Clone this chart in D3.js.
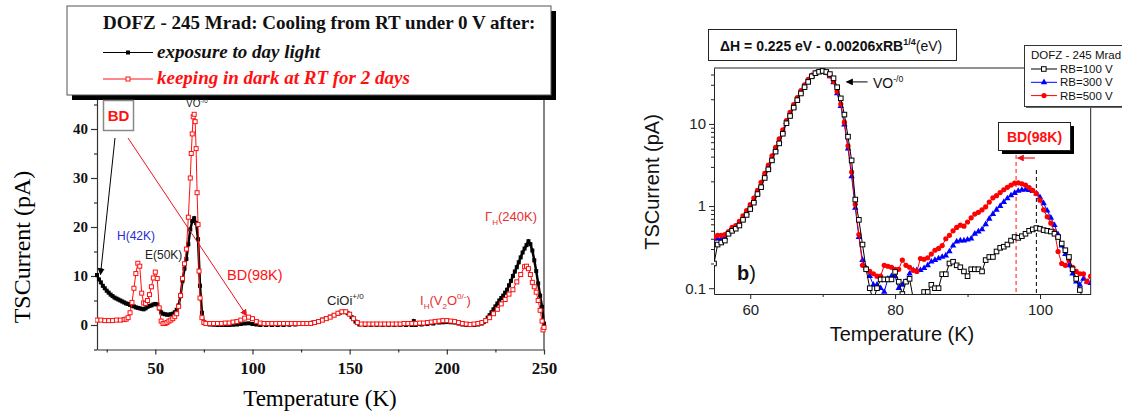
<!DOCTYPE html>
<html>
<head>
<meta charset="utf-8">
<script src="https://cdn.jsdelivr.net/npm/d3@7"></script>
<style>
  body { margin: 0; background: #fff; }
  svg { display: block; }
</style>
</head>
<body>
<svg id="chart" width="1122" height="413"></svg>
<script>
// ---------------- panel a (linear TSC spectra) ----------------
var aTicksX = [50, 100, 150, 200, 250];
var aMinorX = [25, 75, 125, 175, 225];
var aTicksY = [0, 10, 20, 30, 40];
var aMinorY = [-5, 5, 15, 25, 35, 45];

// exposure to day light  [T (K), I (pA)]
var dayLight = [[20,10.2],[21,9.3],[22,8.7],[23,8.0],[24,7.5],[25,7.0],[26,6.6],[27,6.2],[28,5.9],[29,5.6],
  [30,5.4],[31,5.2],[32,5.0],[33,4.8],[34,4.6],[35,4.4],[36,4.3],[37,4.1],[38,3.9],[39,3.8],[40,3.6],[41,3.5],
  [42,3.4],[43,3.3],[44,3.2],[45,3.4],[46,3.7],[47,3.9],[48,4.0],[49,4.2],[50,4.3],[51,4.2],[52,3.4],[53,2.6],
  [54,2.3],[55,2.2],[56,2.1],[57,2.1],[58,2.2],[59,2.3],[60,2.6],[61,3.1],[62,4.0],[63,6.0],[64,9.0],[65,11.5],
  [66,13.5],[67,16.5],[68,19.5],[69,21.2],[70,21.8],[71,20.8],[72,17.5],[73,8.0],[74,2.5],[75,0.6],[76,0.2],
  [78,0.1],[80,0.05],[82,0.0],[84,0.0],[86,0.0],[88,0.0],[90,0.05],[92,0.1],[94,0.2],[96,0.3],[98,0.35],[100,0.2],
  [102,0.1],[104,0.0],[107,0.0],[110,0.0],[113,0.0],[116,0.0],[119,0.05],[122,0.1],[125,0.2],[128,0.3],[131,0.5],
  [134,0.8],[136,1.1],[138,1.4],[140,1.7],[142,2.0],[144,2.3],[145,2.5],[147,2.7],[149,2.4],[151,1.6],[153,0.7],
  [155,0.1],[158,0.0],[161,0.0],[164,0.0],[167,0.0],[170,0.0],[173,0.0],[176,0.0],[179,0.0],[182,0.0],[183,0.8],
  [184,0.0],[187,0.1],[190,0.2],[193,0.3],[196,0.5],[198,0.55],[200,0.6],[202,0.55],[204,0.5],[206,0.3],[208,0.1],
  [210,0.0],[212,0.0],[214,0.0],[216,0.1],[218,0.3],[219,0.6],[220,1.0],[221,1.5],[222,2.0],[223,2.6],[224,3.2],
  [225,3.8],[226,4.4],[227,5.0],[228,5.5],[229,6.0],[230,6.6],[231,7.2],[232,8.1],[233,9.0],[234,10.0],[235,10.9],
  [236,11.8],[237,12.8],[238,13.8],[239,14.8],[240,15.6],[241,16.3],[242,17.1],[243,16.5],[244,15.2],[245,13.2],
  [246,11.0],[247,8.5],[248,6.0],[249,3.7],[250,0.3]];

// keeping in dark at RT for 2 days
var darkRT = [[20,1.0],[22,1.0],[24,0.9],[26,0.9],[28,0.9],[30,1.0],[32,1.0],[34,1.1],[35,1.2],[36,1.5],[37,2.5],
  [38,4.6],[39,7.5],[40,10.5],[41,12.6],[42,12.0],[43,6.5],[44,4.5],[45,4.4],[46,5.0],[47,6.2],[48,7.8],[49,9.6],
  [50,10.8],[51,9.5],[52,3.5],[53,0.8],[54,0.3],[55,0.3],[56,0.5],[57,0.8],[58,1.0],[59,1.3],[60,1.7],[61,2.3],
  [62,3.8],[63,6.0],[64,9.5],[65,12.5],[66,15.5],[67,22],[68,30],[68.5,35],[69,39],[69.5,42.5],[70,43],[70.5,41.5],
  [71,36],[71.5,27],[72,20.5],[72.5,11],[73,5.5],[74,1.5],[75,0.5],[76,0.3],[78,0.3],[80,0.3],[82,0.3],[84,0.3],
  [86,0.4],[88,0.4],[90,0.6],[92,0.7],[94,1.0],[96,1.4],[98,1.6],[100,1.3],[102,0.7],[104,0.4],[106,0.3],[108,0.3],
  [110,0.3],[112,0.3],[114,0.3],[116,0.3],[118,0.3],[120,0.3],[122,0.3],[124,0.3],[126,0.3],[128,0.3],[130,0.3],
  [132,0.5],[134,0.7],[136,1.0],[138,1.3],[140,1.6],[142,2.0],[144,2.4],[146,2.7],[148,2.7],[150,2.2],[152,1.3],
  [154,0.5],[156,0.2],[158,0.2],[160,0.2],[162,0.2],[164,0.2],[166,0.2],[168,0.2],[170,0.2],[172,0.2],[174,0.2],
  [176,0.2],[178,0.3],[180,0.3],[182,0.3],[184,0.3],[186,0.4],[188,0.4],[190,0.5],[192,0.6],[194,0.7],[196,0.8],
  [198,0.9],[200,0.9],[202,0.8],[204,0.7],[206,0.5],[208,0.3],[210,0.2],[212,0.1],[214,0.2],[216,0.3],[218,0.5],
  [220,0.9],[222,1.5],[224,2.3],[226,3.2],[228,4.3],[230,5.2],[232,6.3],[234,7.2],[236,8.8],[238,10.3],[240,11.9],
  [241,12.0],[242,11.5],[243,10.3],[244,8.7],[245,7.8],[246,6.7],[247,5.0],[248,3.0],[249,0.8],[249.5,-1.0],[250,-0.5]];

// ---------------- panel b (log TSC, three bias voltages) ----------------
var bTicksX = [60, 80, 100];
var bMinorX = [70, 90];
var bTicksY = [0.1, 1, 10];
var bMinorY = [0.2, 0.3, 0.4, 0.5, 0.6, 0.7, 0.8, 0.9, 2, 3, 4, 5, 6, 7, 8, 9, 20, 30, 40];

var bTemps = [55,55.5,56,56.5,57,57.5,58,58.5,59,59.5,60,60.5,61,61.5,62,62.5,63,63.5,64,64.5,
  65,65.5,66,66.5,67,67.5,68,68.5,69,69.5,70,70.5,71,71.5,72,72.5,73,73.5,74,74.5,
  75,75.5,76,76.5,77,77.5,78,78.5,79,79.5,80,80.5,81,81.5,82,82.5,83,83.5,84,84.5,
  85,85.5,86,86.5,87,87.5,88,88.5,89,89.5,90,90.5,91,91.5,92,92.5,93,93.5,94,94.5,
  95,95.5,96,96.5,97,97.5,98,98.5,99,99.5,100,100.5,101,101.5,102,102.5,103,103.5,104,104.5,
  105,105.5,106,106.5,107];

var rb100 = [0.20,0.34,0.36,0.38,0.46,0.50,0.53,0.58,0.68,0.78,0.92,1.10,1.40,1.70,2.2,2.8,3.6,4.6,5.8,7.6,
  10.2,12.5,15.8,19.5,23.5,28.0,32.5,38.0,41.5,43.2,44.2,43.0,40.5,36.0,28.0,20.5,13.0,7.0,3.6,1.2,
  0.68,0.34,0.17,0.10,0.07,0.10,0.128,0.128,0.128,0.128,0.158,0.12,0.085,0.12,0.13,0.075,0.07,0.07,0.09,0.09,
  0.11,0.10,0.10,0.148,0.148,0.20,0.21,0.19,0.18,0.16,0.14,0.17,0.17,0.17,0.16,0.22,0.24,0.24,0.28,0.31,
  0.32,0.34,0.38,0.42,0.41,0.43,0.46,0.50,0.52,0.54,0.53,0.51,0.50,0.49,0.46,0.42,0.35,0.29,0.24,0.17,
  0.13,0.095,0.07,0.06,0.06];

var rb300 = [0.40,0.40,0.40,0.41,0.47,0.52,0.55,0.61,0.71,0.82,0.97,1.16,1.45,1.80,2.3,2.95,3.8,4.9,6.2,8.0,
  10.5,13.0,16.3,20.0,24.5,29.0,34.0,38.5,41.5,43.0,43.5,41.5,38.0,32.0,23.5,16.5,9.8,5.0,2.3,0.95,
  0.42,0.22,0.175,0.14,0.11,0.11,0.10,0.09,0.13,0.14,0.14,0.10,0.11,0.12,0.15,0.166,0.166,0.166,0.175,0.19,
  0.21,0.22,0.23,0.24,0.25,0.28,0.33,0.37,0.38,0.38,0.39,0.40,0.46,0.49,0.52,0.60,0.70,0.80,0.90,1.0,
  1.12,1.24,1.35,1.44,1.53,1.57,1.58,1.56,1.52,1.42,1.28,1.08,0.88,0.72,0.585,0.45,0.33,0.26,0.19,0.15,
  0.12,0.11,0.13,0.12,0.115];

var rb500 = [0.42,0.44,0.44,0.45,0.49,0.55,0.58,0.65,0.76,0.88,1.04,1.25,1.55,1.95,2.5,3.15,4.1,5.2,6.6,8.5,
  11.0,13.8,17.2,21.0,25.5,30.0,35.0,39.0,42.0,43.5,43.8,42.0,38.5,33.0,25.0,17.5,10.5,5.4,2.6,1.05,
  0.45,0.19,0.175,0.16,0.15,0.14,0.14,0.19,0.185,0.18,0.17,0.17,0.22,0.19,0.18,0.165,0.16,0.23,0.225,0.235,
  0.26,0.29,0.305,0.33,0.40,0.44,0.50,0.55,0.585,0.57,0.64,0.72,0.80,0.84,0.90,0.98,1.12,1.26,1.34,1.46,
  1.58,1.69,1.80,1.90,1.92,1.87,1.80,1.68,1.55,1.42,1.18,0.90,0.74,0.62,0.49,0.28,0.20,0.19,0.22,0.18,
  0.16,0.15,0.15,0.12,0.14];

var bLegend = ["RB=100 V", "RB=300 V", "RB=500 V"];

var svg = d3.select("#chart");
var defs = svg.append("defs");

function arrowHead(id, color) {
  defs.append("marker")
    .attr("id", id)
    .attr("viewBox", "0 0 10 10")
    .attr("refX", 9).attr("refY", 5)
    .attr("markerWidth", 7).attr("markerHeight", 7)
    .attr("markerUnits", "userSpaceOnUse")
    .attr("orient", "auto")
    .append("path").attr("d", "M0,0 L10,5 L0,10 z").attr("fill", color);
}
arrowHead("arBlack", "#000");
arrowHead("arRed", "#e8141b");

// =========================== PANEL A ===========================
var serif = "'Liberation Serif', 'Times New Roman', serif";
var xa = d3.scaleLinear().domain([20, 250]).range([97, 544]);
var ya = d3.scaleLinear().domain([-5, 47]).range([349.5, 94.7]);

defs.append("clipPath").attr("id", "clipA")
  .append("rect").attr("x", 95).attr("y", 94).attr("width", 452).attr("height", 258);

var ga = svg.append("g");

// axes
var axBottomA = ga.append("g").attr("transform", "translate(0,349.5)")
  .call(d3.axisBottom(xa).tickValues(aTicksX).tickSize(5).tickSizeOuter(0).tickPadding(7));
ga.append("g").attr("transform", "translate(0,349.5)")
  .call(d3.axisBottom(xa).tickValues(aMinorX).tickSize(3).tickFormat(""))
  .select(".domain").remove();
var axLeftA = ga.append("g").attr("transform", "translate(97,0)")
  .call(d3.axisLeft(ya).tickValues(aTicksY).tickSize(6).tickSizeOuter(0).tickPadding(3));
ga.append("g").attr("transform", "translate(97,0)")
  .call(d3.axisLeft(ya).tickValues(aMinorY).tickSize(3).tickFormat(""))
  .select(".domain").remove();
ga.selectAll(".domain, .tick line").attr("stroke", "#333").attr("stroke-width", 1.2);
axBottomA.selectAll("text").style("font", "bold 17px " + serif).attr("fill", "#111");
axLeftA.selectAll("text").style("font", "bold 15px " + serif).attr("fill", "#111");
ga.append("line").attr("x1", 544).attr("x2", 544).attr("y1", 94).attr("y2", 349.5)
  .attr("stroke", "#333").attr("stroke-width", 1.2);

ga.append("text").attr("x", 320).attr("y", 406).attr("text-anchor", "middle")
  .style("font", "23px " + serif).text("Temperature (K)");
ga.append("text").attr("transform", "translate(30,247) rotate(-90)").attr("text-anchor", "middle")
  .style("font", "24px " + serif).text("TSCurrent (pA)");

// curves
var lineA = d3.line().x(function(d) { return xa(d[0]); }).y(function(d) { return ya(d[1]); });
var plotA = ga.append("g").attr("clip-path", "url(#clipA)");

plotA.append("path").datum(dayLight).attr("d", lineA)
  .attr("fill", "none").attr("stroke", "#000").attr("stroke-width", 2.5);
plotA.selectAll(".ptDay").data(dayLight).enter().append("rect")
  .attr("x", function(d) { return xa(d[0]) - 2; })
  .attr("y", function(d) { return ya(d[1]) - 2; })
  .attr("width", 4).attr("height", 4).attr("fill", "#000");

plotA.append("path").datum(darkRT).attr("d", lineA)
  .attr("fill", "none").attr("stroke", "#ff1010").attr("stroke-width", 1);
plotA.selectAll(".ptDark").data(darkRT).enter().append("rect")
  .attr("x", function(d) { return xa(d[0]) - 2; })
  .attr("y", function(d) { return ya(d[1]) - 2; })
  .attr("width", 4).attr("height", 4)
  .attr("fill", "#fff").attr("stroke", "#ff1010").attr("stroke-width", 1);

// legend box with drop shadow
ga.append("rect").attr("x", 72).attr("y", 11).attr("width", 484).attr("height", 89).attr("fill", "#000");
ga.append("rect").attr("x", 67).attr("y", 6).attr("width", 484).attr("height", 89)
  .attr("fill", "#fff").attr("stroke", "#555").attr("stroke-width", 1);
ga.append("text").attr("x", 103).attr("y", 29)
  .style("font", "bold 19px " + serif).attr("fill", "#111")
  .text("DOFZ - 245 Mrad: Cooling from RT under 0 V after:");
ga.append("line").attr("x1", 103).attr("x2", 153).attr("y1", 52.5).attr("y2", 52.5).attr("stroke", "#000").attr("stroke-width", 1.2);
ga.append("rect").attr("x", 126).attr("y", 50.5).attr("width", 4).attr("height", 4).attr("fill", "#000");
ga.append("text").attr("x", 157).attr("y", 57.5)
  .style("font", "italic bold 19px " + serif).attr("fill", "#111").text("exposure to day light");
ga.append("line").attr("x1", 103).attr("x2", 153).attr("y1", 79).attr("y2", 79).attr("stroke", "#ff1010").attr("stroke-width", 1);
ga.append("rect").attr("x", 126).attr("y", 77).attr("width", 4).attr("height", 4)
  .attr("fill", "#fff").attr("stroke", "#ff1010");
ga.append("text").attr("x", 157).attr("y", 84)
  .style("font", "italic bold 19px " + serif).attr("fill", "#ff1010").text("keeping in dark at RT for 2 days");

// annotations
var sans = "'Liberation Sans', Arial, sans-serif";
ga.append("rect").attr("x", 103.5).attr("y", 100.5).attr("width", 30).attr("height", 30)
  .attr("fill", "#fff").attr("stroke", "#888").attr("stroke-width", 1.5);
ga.append("text").attr("x", 118.5).attr("y", 121).attr("text-anchor", "middle")
  .style("font", "bold 15px " + sans).attr("fill", "#ff1010").text("BD");
ga.append("line").attr("x1", 115).attr("y1", 138).attr("x2", xa(21.8)).attr("y2", ya(10.3))
  .attr("stroke", "#000").attr("stroke-width", 1).attr("marker-end", "url(#arBlack)");
ga.append("line").attr("x1", 128).attr("y1", 138).attr("x2", xa(97)).attr("y2", ya(1.9))
  .attr("stroke", "#e8141b").attr("stroke-width", 1).attr("marker-end", "url(#arRed)");

function labelSup(g, x, y, size, color, parts) {
  // parts: [text, mode] mode: "n" normal, "sup", "sub"
  var t = g.append("text").attr("x", x).attr("y", y).style("font", size + "px " + sans).attr("fill", color);
  var shift = 0;
  parts.forEach(function(p) {
    var target = p[1] == "sup" ? -size * 0.45 : (p[1] == "sub" ? size * 0.3 : 0);
    t.append("tspan").attr("dy", target - shift)
      .style("font-size", p[1] == "n" ? size + "px" : (size * 0.62) + "px").text(p[0]);
    shift = target;
  });
  return t;
}

labelSup(ga, 186, 107, 10, "#222", [["VO", "n"], ["-/0", "sup"]]);
ga.append("text").attr("x", 117).attr("y", 240).style("font", "12px " + sans).attr("fill", "#2a2ad0").text("H(42K)");
ga.append("text").attr("x", 145).attr("y", 259).style("font", "12px " + sans).attr("fill", "#222").text("E(50K)");
ga.append("text").attr("x", 227).attr("y", 280).style("font", "14.5px " + sans).attr("fill", "#ff1010").text("BD(98K)");
labelSup(ga, 327, 305, 13, "#222", [["CiOi", "n"], ["+/0", "sup"]]);
labelSup(ga, 420, 305, 13, "#e83030", [["I", "n"], ["H", "sub"], ["(V", "n"], ["2", "sub"], ["O", "n"], ["0/-", "sup"], [")", "n"]]);
labelSup(ga, 485, 221, 13, "#e83030", [["Γ", "n"], ["H", "sub"], ["(240K)", "n"]]);

// =========================== PANEL B ===========================
var xb = d3.scaleLinear().domain([55, 107]).range([714, 1090.7]);
var yb = d3.scaleLog().domain([0.085, 48]).range([294, 68]);

defs.append("clipPath").attr("id", "clipB")
  .append("rect").attr("x", 714).attr("y", 68).attr("width", 376.7).attr("height", 226);

var gb = svg.append("g");

var axBottomB = gb.append("g").attr("transform", "translate(0,294)")
  .call(d3.axisBottom(xb).tickValues(bTicksX).tickSize(5).tickSizeOuter(0).tickPadding(5));
gb.append("g").attr("transform", "translate(0,294)")
  .call(d3.axisBottom(xb).tickValues(bMinorX).tickSize(3).tickFormat(""))
  .select(".domain").remove();
var axLeftB = gb.append("g").attr("transform", "translate(714,0)")
  .call(d3.axisLeft(yb).tickValues(bTicksY).tickSize(5).tickSizeOuter(0).tickPadding(3)
    .tickFormat(function(d) { return d < 1 ? "0.1" : d3.format("d")(d); }));
gb.append("g").attr("transform", "translate(714,0)")
  .call(d3.axisLeft(yb).tickValues(bMinorY).tickSize(3).tickFormat(""))
  .select(".domain").remove();
gb.selectAll(".domain, .tick line").attr("stroke", "#222").attr("stroke-width", 1);
axBottomB.selectAll("text").style("font", "15px " + sans).attr("fill", "#222");
axLeftB.selectAll("text").style("font", "15px " + sans).attr("fill", "#222");
gb.append("line").attr("x1", 714).attr("x2", 1090.7).attr("y1", 68).attr("y2", 68).attr("stroke", "#222");
gb.append("line").attr("x1", 1090.7).attr("x2", 1090.7).attr("y1", 68).attr("y2", 294).attr("stroke", "#222");

gb.append("text").attr("x", 902).attr("y", 341).attr("text-anchor", "middle")
  .style("font", "20px " + sans).attr("fill", "#111").text("Temperature (K)");
gb.append("text").attr("transform", "translate(659,182) rotate(-90)").attr("text-anchor", "middle")
  .style("font", "20px " + sans).attr("fill", "#111").text("TSCurrent (pA)");

var plotB = gb.append("g").attr("clip-path", "url(#clipB)");

// dashed peak markers
plotB.append("line").attr("x1", xb(96.7)).attr("x2", xb(96.7)).attr("y1", yb(5.1)).attr("y2", 294)
  .attr("stroke", "#ff1010").attr("stroke-dasharray", "4,3");
plotB.append("line").attr("x1", xb(99.5)).attr("x2", xb(99.5)).attr("y1", yb(2.75)).attr("y2", 294)
  .attr("stroke", "#000").attr("stroke-dasharray", "4,3");

function seriesB(vals, color) {
  var pts = bTemps.map(function(t, i) { return [t, vals[i]]; });
  var line = d3.line().x(function(d) { return xb(d[0]); }).y(function(d) { return yb(d[1]); });
  plotB.append("path").datum(pts).attr("d", line)
    .attr("fill", "none").attr("stroke", color).attr("stroke-width", 1);
  return pts;
}

var p300 = seriesB(rb300, "#0000ff");
plotB.selectAll(".tri").data(p300).enter().append("path")
  .attr("d", d3.symbol().type(d3.symbolTriangle).size(18))
  .attr("transform", function(d) { return "translate(" + xb(d[0]) + "," + yb(d[1]) + ")"; })
  .attr("fill", "#0000ff");

var p500 = seriesB(rb500, "#ff0000");
plotB.selectAll(".dot").data(p500).enter().append("circle")
  .attr("cx", function(d) { return xb(d[0]); })
  .attr("cy", function(d) { return yb(d[1]); })
  .attr("r", 2.6).attr("fill", "#ff0000");

var p100 = seriesB(rb100, "#000");
plotB.selectAll(".sq").data(p100).enter().append("rect")
  .attr("x", function(d) { return xb(d[0]) - 2.3; })
  .attr("y", function(d) { return yb(d[1]) - 2.3; })
  .attr("width", 4.6).attr("height", 4.6)
  .attr("fill", "#fff").attr("stroke", "#000").attr("stroke-width", 1);

// formula box
gb.append("rect").attr("x", 708.5).attr("y", 29.5).attr("width", 248).attr("height", 31)
  .attr("fill", "#fff").attr("stroke", "#222");
var ft = gb.append("text").attr("x", 720).attr("y", 51).style("font", "bold 14px " + sans).attr("fill", "#111");
ft.append("tspan").text("ΔH = 0.225 eV - 0.00206xRB");
ft.append("tspan").attr("dy", -6).style("font-size", "9px").text("1/4");
ft.append("tspan").attr("dy", 6).style("font-weight", "normal").text("(eV)");

// legend
gb.append("rect").attr("x", 1026).attr("y", 47).attr("width", 110).attr("height", 61).attr("fill", "#666");
gb.append("rect").attr("x", 1024.5).attr("y", 45.5).attr("width", 110).attr("height", 61)
  .attr("fill", "#fff").attr("stroke", "#333");
gb.append("text").attr("x", 1031).attr("y", 59).style("font", "11.5px " + sans).attr("fill", "#111").text("DOFZ - 245 Mrad");
var legColors = ["#000", "#0000ff", "#ff0000"];
bLegend.forEach(function(name, i) {
  var ly = 69 + i * 13.3;
  gb.append("line").attr("x1", 1031).attr("x2", 1057).attr("y1", ly).attr("y2", ly).attr("stroke", legColors[i]);
  if (i == 0) {
    gb.append("rect").attr("x", 1041.5).attr("y", ly - 2.3).attr("width", 4.6).attr("height", 4.6)
      .attr("fill", "#fff").attr("stroke", "#000");
  } else if (i == 1) {
    gb.append("path").attr("d", d3.symbol().type(d3.symbolTriangle).size(18))
      .attr("transform", "translate(1044," + ly + ")").attr("fill", "#0000ff");
  } else {
    gb.append("circle").attr("cx", 1044).attr("cy", ly).attr("r", 2.6).attr("fill", "#ff0000");
  }
  gb.append("text").attr("x", 1060).attr("y", ly + 4).style("font", "11.5px " + sans).attr("fill", "#111").text(name);
});

// BD(98K) box
gb.append("rect").attr("x", 1002).attr("y", 126).attr("width", 72).attr("height", 28).attr("fill", "#000");
gb.append("rect").attr("x", 998.5).attr("y", 122.5).attr("width", 72).attr("height", 28)
  .attr("fill", "#fff").attr("stroke", "#222");
gb.append("text").attr("x", 1034.5).attr("y", 142).attr("text-anchor", "middle")
  .style("font", "bold 14px " + sans).attr("fill", "#ff1010").text("BD(98K)");
gb.append("line").attr("x1", xb(99.3)).attr("x2", xb(96.9)).attr("y1", yb(3.85)).attr("y2", yb(3.85))
  .attr("stroke", "#ff1010").attr("stroke-width", 1.2).attr("marker-end", "url(#arRed)");

// VO label
gb.append("line").attr("x1", xb(76.2)).attr("x2", xb(73.3)).attr("y1", yb(32.5)).attr("y2", yb(32.5))
  .attr("stroke", "#000").attr("stroke-width", 1).attr("marker-end", "url(#arBlack)");
labelSup(gb, 873, 88, 14, "#111", [["VO", "n"], ["-/0", "sup"]]);

// panel tag
var bt = gb.append("text").attr("x", 737).attr("y", 280).style("font", "20px " + sans).attr("fill", "#111");
bt.append("tspan").style("font-weight", "bold").text("b");
bt.append("tspan").text(")");
</script>
</body>
</html>
